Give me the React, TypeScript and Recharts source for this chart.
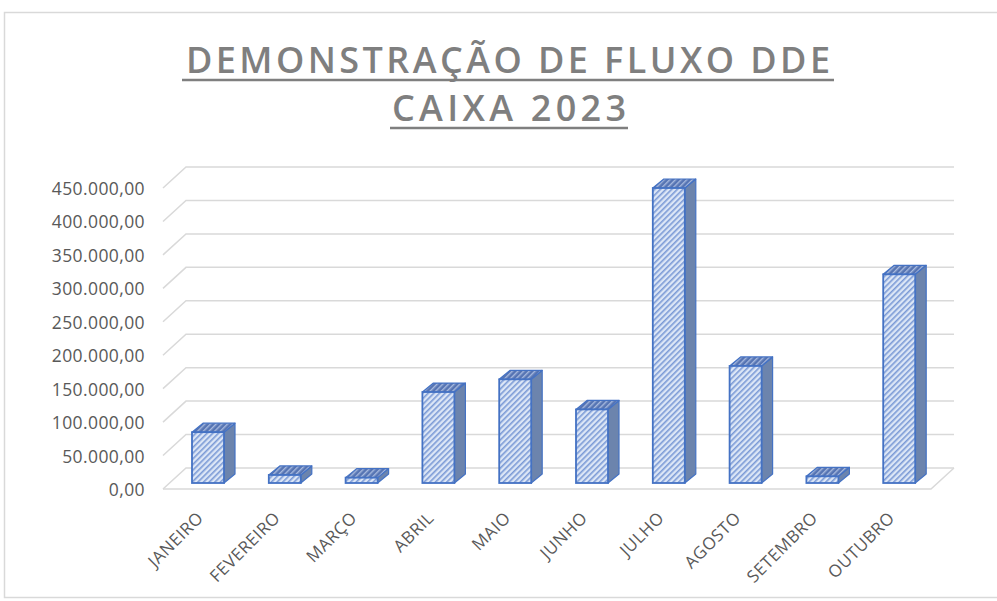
import { BarChart, Bar, XAxis, YAxis, CartesianGrid } from 'recharts'

const months = ['JANEIRO', 'FEVEREIRO', 'MARÇO', 'ABRIL', 'MAIO', 'JUNHO', 'JULHO', 'AGOSTO', 'SETEMBRO', 'OUTUBRO']
const values = [76000, 12000, 8000, 136000, 155000, 110000, 441000, 175000, 10000, 312000]
const yTicks = [0, 50000, 100000, 150000, 200000, 250000, 300000, 350000, 400000, 450000]

const data = months.map((m, i) => ({ mes: m, valor: values[i] }))

const W = 997
const H = 601
const PLOT_L = 170
const PLOT_R = 938
const PLOT_T = 182
const PLOT_B = 483
const GRID = '#d9d9d9'
const TEXT = '#595959'
const FONT = '"Open Sans", sans-serif'

const fmt = (v: number) =>
  v.toLocaleString('pt-BR', { minimumFractionDigits: 2, maximumFractionDigits: 2 })

function GridLine(props: any) {
  const { y1 } = props
  const fl = PLOT_L - 7, bl = PLOT_L + 16, br = PLOT_R + 16, fr = PLOT_R - 7
  const fy = y1 + 6, by = y1 - 15
  const isFloor = Math.abs(y1 - PLOT_B) < 1
  return (
    <g key={props.key}>
      <path d={`M${fl},${fy} L${bl},${by} L${br},${by}`} fill="none" stroke={GRID} strokeWidth={1.5} />
      {isFloor && (
        <path d={`M${fl},${fy} L${fr},${fy} L${br},${by}`} fill="none" stroke={GRID} strokeWidth={1.5} />
      )}
    </g>
  )
}

function YTick({ y, payload }: any) {
  return (
    <text x={145} y={y + 6} textAnchor="end" dominantBaseline="central"
      fill={TEXT} fontSize={17.5} fontFamily={FONT} letterSpacing={0.4}>
      {fmt(payload.value)}
    </text>
  )
}

function XTick({ x, payload }: any) {
  const ax = x - 4
  const ay = PLOT_B + 36
  return (
    <text x={ax} y={ay} textAnchor="end" transform={`rotate(-45, ${ax}, ${ay})`}
      fill={TEXT} fontSize={17} fontFamily={FONT} letterSpacing={0.5}>
      {payload.value}
    </text>
  )
}

function Box3D({ x, y, width, height }: any) {
  const dx = 11, dy = -9
  const stroke = '#4472c4'
  return (
    <g>
      <path
        d={`M${x + width},${y} L${x + width + dx},${y + dy} L${x + width + dx},${y + height + dy} L${x + width},${y + height} Z`}
        fill="#6c84ad" stroke={stroke} strokeWidth={1.2} strokeLinejoin="round" />
      <path
        d={`M${x},${y} L${x + dx},${y + dy} L${x + width + dx},${y + dy} L${x + width},${y} Z`}
        fill="url(#hatchTop)" stroke={stroke} strokeWidth={1.2} strokeLinejoin="round" />
      <rect x={x} y={y} width={width} height={height} fill="url(#hatchFront)"
        stroke={stroke} strokeWidth={1.8} />
    </g>
  )
}

export default function App() {
  return (
    <div style={{ position: 'relative', width: W, height: H, background: '#fff' }}>
      <style>{'body{margin:0}'}</style>
      <svg width={W} height={H} style={{ position: 'absolute', left: 0, top: 0 }}>
        <defs>
          <pattern id="hatchFront" patternUnits="userSpaceOnUse" width={4} height={4} patternTransform="rotate(45)">
            <rect width={4} height={4} fill="#dce6f6" />
            <rect width={1.6} height={4} fill="#7b9ad6" />
          </pattern>
          <pattern id="hatchTop" patternUnits="userSpaceOnUse" width={4} height={4} patternTransform="rotate(45)">
            <rect width={4} height={4} fill="#5674b3" />
            <rect width={1.4} height={4} fill="#a7b9de" />
          </pattern>
        </defs>
        <rect x={4.5} y={12.5} width={1000} height={585} fill="none" stroke="#d9d9d9" strokeWidth={1.5} />
        <g fill="#7f7f7f" fontFamily={FONT} fontWeight={600} fontSize={36}>
          <text x={186} y={73} textLength={644} lengthAdjust="spacing">DEMONSTRAÇÃO DE FLUXO DDE</text>
          <line x1={182} y1={80} x2={834} y2={80} stroke="#7f7f7f" strokeWidth={2.5} />
          <text x={392} y={121} textLength={234} lengthAdjust="spacing">CAIXA 2023</text>
          <line x1={390} y1={128} x2={628} y2={128} stroke="#7f7f7f" strokeWidth={2.5} />
        </g>
      </svg>
      <div style={{ position: 'absolute', left: 0, top: 0 }}>
        <BarChart width={W} height={H} data={data}
          margin={{ top: PLOT_T, right: W - PLOT_R, bottom: H - PLOT_B - 60, left: 0 }}>
          <CartesianGrid vertical={false} horizontal={(p: any) => <GridLine {...p} />} />
          <XAxis dataKey="mes" interval={0} axisLine={false} tickLine={false} height={60} tick={<XTick />} />
          <YAxis domain={[0, 450000]} ticks={yTicks} axisLine={false} tickLine={false}
            width={PLOT_L} tick={<YTick />} />
          <Bar dataKey="valor" barSize={32} shape={<Box3D />} isAnimationActive={false} />
        </BarChart>
      </div>
    </div>
  )
}
